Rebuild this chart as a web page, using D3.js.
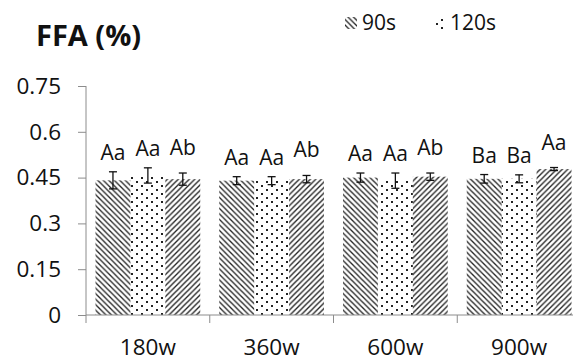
<!DOCTYPE html>
<html>
<head>
<meta charset="utf-8">
<script src="https://cdn.jsdelivr.net/npm/d3@7"></script>
<style>
  body { margin: 0; background: #fff; }
  text { font-family: "Open Sans", sans-serif; fill: #111; }
</style>
</head>
<body>
<div id="chart"></div>
<script>
// data
var categories = ["180w", "360w", "600w", "900w"];
var seriesNames = ["90s", "120s", "150s"];
var values90 = [0.441, 0.440, 0.450, 0.446];
var values120 = [0.457, 0.440, 0.440, 0.446];
var values150 = [0.445, 0.445, 0.453, 0.478];
var err90 = [0.028, 0.013, 0.015, 0.014];
var err120 = [0.025, 0.013, 0.025, 0.013];
var err150 = [0.020, 0.012, 0.012, 0.005];
var letters90 = ["Aa", "Aa", "Aa", "Ba"];
var letters120 = ["Aa", "Aa", "Aa", "Ba"];
var letters150 = ["Ab", "Ab", "Ab", "Aa"];
var yTicks = [0, 0.15, 0.3, 0.45, 0.6, 0.75];
var legendSeries = ["90s", "120s"];

var svgWidth = 573;
var svgHeight = 361;

var svg = d3.select("#chart")
  .append("svg")
  .attr("width", svgWidth)
  .attr("height", svgHeight);

// hatch patterns
var defs = svg.append("defs");
var pats = ["hatchDown", "dots", "hatchUp"];

var p1 = defs.append("pattern")
  .attr("id", "hatchDown")
  .attr("patternUnits", "userSpaceOnUse")
  .attr("width", 5.5).attr("height", 5.5);
p1.append("path")
  .attr("d", "M-1,-1 L6.5,6.5 M-1,4.5 L1,6.5 M4.5,-1 L6.5,1")
  .attr("stroke", "#222").attr("stroke-width", 1.3);

var p2 = defs.append("pattern")
  .attr("id", "dots")
  .attr("patternUnits", "userSpaceOnUse")
  .attr("width", 10).attr("height", 8);
p2.append("rect").attr("x", 1).attr("y", 1).attr("width", 2).attr("height", 2).attr("fill", "#222");
p2.append("rect").attr("x", 6).attr("y", 5).attr("width", 2).attr("height", 2).attr("fill", "#222");

var p3 = defs.append("pattern")
  .attr("id", "hatchUp")
  .attr("patternUnits", "userSpaceOnUse")
  .attr("width", 5.5).attr("height", 5.5);
p3.append("path")
  .attr("d", "M-1,6.5 L6.5,-1 M-1,1 L1,-1 M4.5,6.5 L6.5,4.5")
  .attr("stroke", "#222").attr("stroke-width", 1.3);

// scales
var x0 = d3.scaleBand()
  .domain(categories)
  .range([86, 581]);

var x1 = d3.scaleBand()
  .domain(seriesNames)
  .range([9.5, x0.bandwidth() - 9.5]);

var y = d3.scaleLinear()
  .domain([0, 0.75])
  .range([315, 86]);

// table built from the arrays
var rows = [];
categories.forEach(function (c, i) {
  rows.push({ cat: c, s: "90s", v: values90[i], e: err90[i], t: letters90[i], k: 0 });
  rows.push({ cat: c, s: "120s", v: values120[i], e: err120[i], t: letters120[i], k: 1 });
  rows.push({ cat: c, s: "150s", v: values150[i], e: err150[i], t: letters150[i], k: 2 });
});

// bars
svg.append("g").selectAll("rect")
  .data(rows).enter()
  .append("rect")
  .attr("x", d => x0(d.cat) + x1(d.s))
  .attr("y", d => y(d.v))
  .attr("width", x1.bandwidth())
  .attr("height", d => y(0) - y(d.v))
  .attr("fill", d => "url(#" + pats[d.k] + ")");

// axes
var leftAxis = d3.axisLeft(y)
  .tickValues(yTicks)
  .tickSize(8)
  .tickSizeOuter(0)
  .tickPadding(17)
  .tickFormat(d => d === 0 ? "0" : String(+d.toFixed(2)));

var yAxis = svg.append("g")
  .attr("transform", "translate(86,0)")
  .call(leftAxis);
yAxis.select(".domain").remove();
yAxis.selectAll("line").attr("stroke", "#8c8c8c");
yAxis.selectAll("text").style("font-size", "22.5px").attr("fill", "#111");

svg.append("line")
  .attr("x1", 86).attr("x2", 86)
  .attr("y1", y(0.75)).attr("y2", 323)
  .attr("stroke", "#8c8c8c");

svg.append("line")
  .attr("x1", 86).attr("x2", 581)
  .attr("y1", y(0)).attr("y2", y(0))
  .attr("stroke", "#8c8c8c");

// category boundary ticks
svg.append("g").selectAll("line")
  .data(categories.slice(1)).enter()
  .append("line")
  .attr("x1", d => x0(d)).attr("x2", d => x0(d))
  .attr("y1", y(0)).attr("y2", y(0) + 8)
  .attr("stroke", "#8c8c8c");

var bottomAxis = d3.axisBottom(x0).tickSize(0).tickPadding(24);
var xAxis = svg.append("g")
  .attr("transform", `translate(0, ${y(0)})`)
  .call(bottomAxis);
xAxis.select(".domain").remove();
xAxis.selectAll("text").style("font-size", "22.5px").attr("fill", "#111");

// error bars
var errG = svg.append("g").attr("stroke", "#111").attr("stroke-width", 1.3);
rows.forEach(function (d) {
  var cx = x0(d.cat) + x1(d.s) + x1.bandwidth() / 2;
  errG.append("line").attr("x1", cx).attr("x2", cx).attr("y1", y(d.v + d.e)).attr("y2", y(d.v - d.e));
  errG.append("line").attr("x1", cx - 4).attr("x2", cx + 4).attr("y1", y(d.v + d.e)).attr("y2", y(d.v + d.e));
  errG.append("line").attr("x1", cx - 4).attr("x2", cx + 4).attr("y1", y(d.v - d.e)).attr("y2", y(d.v - d.e));
});

// significance letters
svg.append("g").selectAll("text")
  .data(rows).enter()
  .append("text")
  .attr("x", d => x0(d.cat) + x1(d.s) + x1.bandwidth() / 2)
  .attr("y", d => y(d.v + d.e) - (d.k === 2 ? 18 : 12))
  .attr("text-anchor", "middle")
  .style("font-size", "21px")
  .text(d => d.t);

// title
svg.append("text")
  .attr("x", 36)
  .attr("y", 46)
  .style("font-size", "29px")
  .style("font-weight", "bold")
  .text("FFA (%)");

// legend
var legend = svg.append("g").attr("transform", "translate(345, 14)");
var legX = [0, 88];
legendSeries.forEach(function (s, i) {
  legend.append("rect")
    .attr("x", legX[i]).attr("y", 3)
    .attr("width", 12).attr("height", 12)
    .attr("fill", "url(#" + pats[i] + ")");
  legend.append("text")
    .attr("x", legX[i] + 17).attr("y", 16)
    .style("font-size", "21px")
    .text(s);
});
</script>
</body>
</html>
